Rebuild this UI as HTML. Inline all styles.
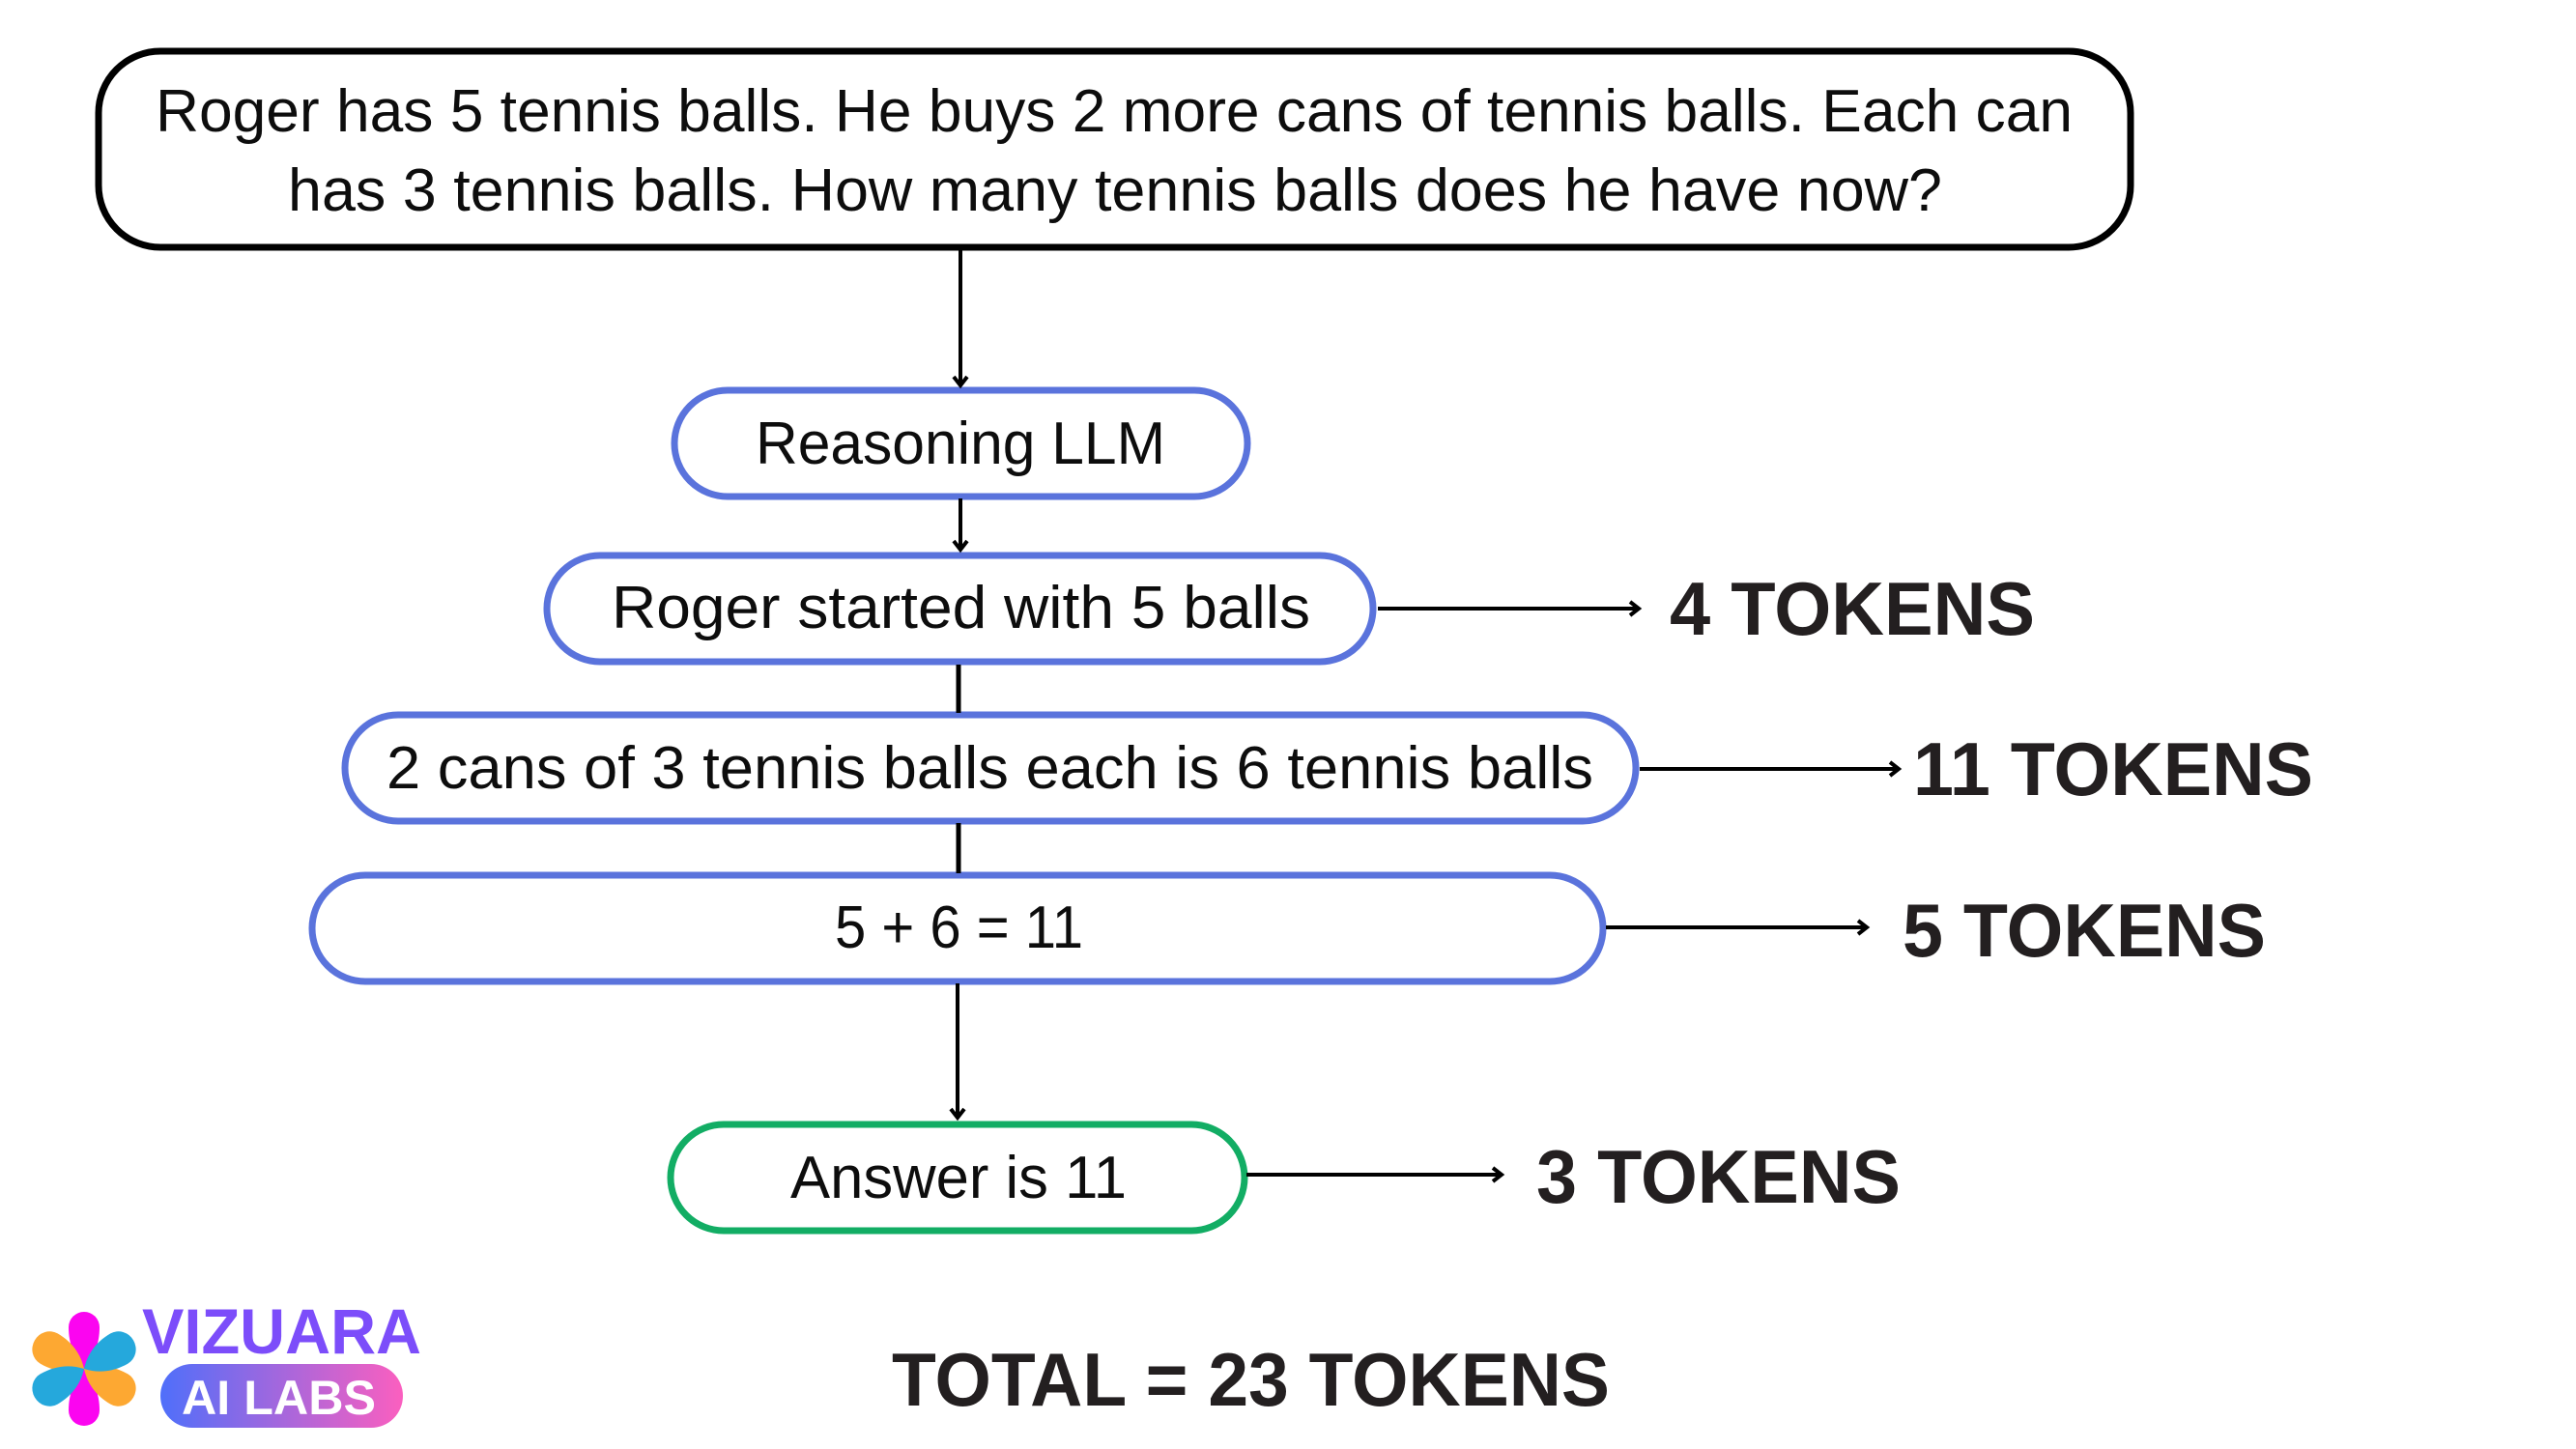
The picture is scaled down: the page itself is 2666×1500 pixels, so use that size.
<!DOCTYPE html>
<html><head><meta charset="utf-8"><style>
html,body{margin:0;padding:0;background:#fff;width:2666px;height:1500px;overflow:hidden}
svg{display:block}
text{font-family:"Liberation Sans",sans-serif}
.t{font-size:62px;fill:#0d0d0d}
.b{font-size:78px;font-weight:bold;fill:#231f20}
</style></head><body>
<svg width="2666" height="1500" viewBox="0 0 2666 1500" xmlns="http://www.w3.org/2000/svg">
<defs><linearGradient id="g" x1="0" x2="1" y1="0" y2="0"><stop offset="0" stop-color="#4f6ffa"/><stop offset="1" stop-color="#fb5fbf"/></linearGradient></defs>
<rect width="2666" height="1500" fill="#fff"/>
<rect x="102" y="53" width="2103" height="203" rx="64" fill="#fff" stroke="#000" stroke-width="7"/>
<g fill="none" stroke="#5a73dc" stroke-width="7">
<rect x="698" y="404" width="593" height="110" rx="55"/>
<rect x="566" y="575" width="855" height="110" rx="55"/>
<rect x="357" y="740" width="1336" height="110" rx="55"/>
<rect x="323" y="906" width="1336" height="110" rx="55"/>
</g>
<rect x="694" y="1164" width="594" height="110" rx="55" fill="none" stroke="#12ad64" stroke-width="7"/>
<g stroke="#000" stroke-width="4" fill="none">
<path d="M994 259V398"/><path d="M987 390l7 9 7-9"/>
<path d="M994 516V568"/><path d="M987 560l7 9 7-9"/>
<path d="M991 1018V1156"/><path d="M984 1148l7 9 7-9"/>
<path d="M1426 630H1695"/><path d="M1687 623l9 7-9 7"/>
<path d="M1697 796H1964"/><path d="M1956 789l9 7-9 7"/>
<path d="M1662 960H1931"/><path d="M1923 953l9 7-9 7"/>
<path d="M1290 1216H1553"/><path d="M1545 1209l9 7-9 7"/>
</g>
<path d="M992 688V738M992 852V904" stroke="#000" stroke-width="5"/>
<text class="t" x="161" y="136" textLength="1984" lengthAdjust="spacingAndGlyphs">Roger has 5 tennis balls. He buys 2 more cans of tennis balls. Each can</text>
<text class="t" x="298" y="218" textLength="1712" lengthAdjust="spacingAndGlyphs">has 3 tennis balls. How many tennis balls does he have now?</text>
<text class="t" x="782" y="480" textLength="424" lengthAdjust="spacingAndGlyphs">Reasoning LLM</text>
<text class="t" x="633" y="650" textLength="723" lengthAdjust="spacingAndGlyphs">Roger started with 5 balls</text>
<text class="t" x="400" y="816" textLength="1249" lengthAdjust="spacingAndGlyphs">2 cans of 3 tennis balls each is 6 tennis balls</text>
<text class="t" x="864" y="981" textLength="257" lengthAdjust="spacingAndGlyphs">5 + 6 = 11</text>
<text class="t" x="818" y="1240" textLength="348" lengthAdjust="spacingAndGlyphs">Answer is 11</text>
<text class="b" x="1728" y="657" textLength="378" lengthAdjust="spacingAndGlyphs">4 TOKENS</text>
<text class="b" x="1980" y="823" textLength="414" lengthAdjust="spacingAndGlyphs">11 TOKENS</text>
<text class="b" x="1969" y="990" textLength="376" lengthAdjust="spacingAndGlyphs">5 TOKENS</text>
<text class="b" x="1590" y="1245" textLength="377" lengthAdjust="spacingAndGlyphs">3 TOKENS</text>
<text class="b" x="923" y="1455" textLength="743" lengthAdjust="spacingAndGlyphs">TOTAL = 23 TOKENS</text>
<g transform="translate(87 1417)">
<path d="M0 0C-9 -11 -16 -24 -16 -43a16 16 0 0 1 32 0C16 -24 9 -11 0 0Z" fill="#fb05f0"/>
<path d="M0 0C-9 -11 -16 -24 -16 -43a16 16 0 0 1 32 0C16 -24 9 -11 0 0Z" fill="#fb05f0" transform="rotate(180)"/>
<path d="M0 0C-11 -10 -18 -24 -18 -42a18 17 0 0 1 36 0C18 -24 11 -10 0 0Z" fill="#fda832" transform="rotate(-60)"/>
<path d="M0 0C-11 -10 -18 -24 -18 -42a18 17 0 0 1 36 0C18 -24 11 -10 0 0Z" fill="#fda832" transform="rotate(120)"/>
<path d="M0 0C-11 -10 -18 -24 -18 -42a18 17 0 0 1 36 0C18 -24 11 -10 0 0Z" fill="#25a8dc" transform="rotate(60)"/>
<path d="M0 0C-11 -10 -18 -24 -18 -42a18 17 0 0 1 36 0C18 -24 11 -10 0 0Z" fill="#25a8dc" transform="rotate(-120)"/>
<path d="M0 0C-9 -11 -16 -24 -16 -43a16 16 0 0 1 32 0C16 -24 9 -11 0 0Z" fill="#fb05f0" opacity="0"/>
</g>
<text x="147" y="1401" font-size="66" font-weight="bold" fill="#7c4dfa" textLength="289" lengthAdjust="spacingAndGlyphs">VIZUARA</text>
<rect x="166" y="1412" width="251" height="66" rx="33" fill="url(#g)"/>
<text x="188" y="1464" font-size="50" font-weight="bold" fill="#fff" textLength="201" lengthAdjust="spacingAndGlyphs">AI LABS</text>
</svg>
</body></html>
